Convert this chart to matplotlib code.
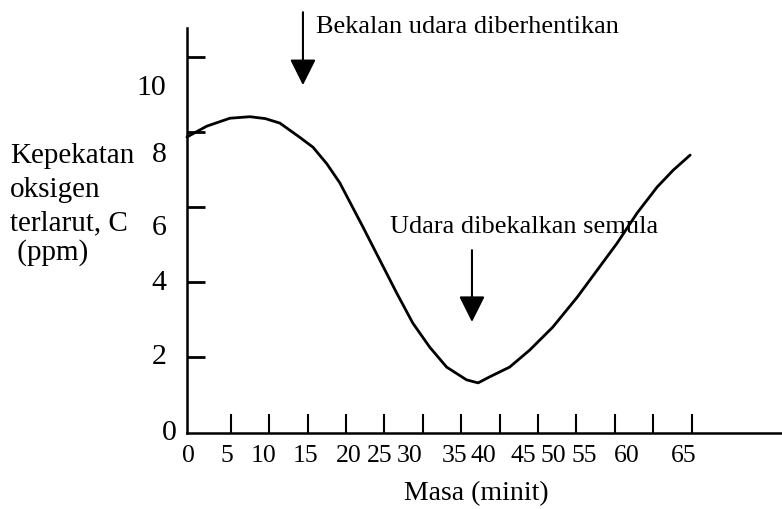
import matplotlib
matplotlib.use("Agg")
import matplotlib.pyplot as plt

plt.rcParams['font.family'] = ['Liberation Serif', 'DejaVu Serif']

# oxygen curve (minutes, ppm)
masa = [-0.7, 1.9, 4.9, 7.5, 9.5, 11.4, 14.0, 15.7, 17.5, 19.2, 22.2, 24.4,
        26.6, 28.7, 30.9, 33.1, 35.7, 37.2, 38.7, 41.3, 43.9, 46.9, 50.1,
        52.7, 55.3, 57.9, 60.5, 62.6, 64.8]
kepekatan = [7.86, 8.15, 8.36, 8.40, 8.35, 8.23, 7.85, 7.59, 7.15, 6.64, 5.47,
             4.59, 3.71, 2.91, 2.27, 1.74, 1.40, 1.32, 1.48, 1.74, 2.19, 2.80,
             3.60, 4.32, 5.04, 5.84, 6.53, 6.98, 7.38]

x_ticks = [0, 5, 10, 15, 20, 25, 30, 35, 40, 45, 50, 55, 60, 65]
y_ticks = [0, 2, 4, 6, 8, 10]
# printed labels sit a little off their ticks (pixel shifts, hand drawn)
x_label_shift = [-4, -4, -6, -2, 3, -5, -13, -7, -16, -15, -23, -31, -27, -8]
y_label_shift = [(-10, 0), (-20, 0), (-20, 1), (-20, 21), (-20, 23), (-20, 31)]

y_title = ['Kepekatan', 'oksigen', 'terlarut, C', ' (ppm)']

stop_air = (14.4, 9.24)
start_air = (36.4, 2.94)

W, H = 782, 509
fig = plt.figure(figsize=(W / 100, H / 100), dpi=100)
ax = fig.add_axes([186.5 / W, (H - 432.5) / H, (W - 186.5) / W, (432.5 - 28) / H])

ax.plot(masa, kepekatan, color='black', lw=2.0, solid_capstyle='round',
        solid_joinstyle='round', clip_on=False)

ax.set_xlim(-0.755, 76.75)
ax.set_ylim(0, 10.76)
for s in ['top', 'right']:
    ax.spines[s].set_visible(False)
for s in ['left', 'bottom']:
    ax.spines[s].set_linewidth(1.8)

ax.set_xticks(x_ticks[1:])
ax.set_xticklabels([])
ax.tick_params(axis='x', direction='in', length=13.5, width=1.5)
ax.set_yticks(y_ticks[1:])
ax.set_yticklabels([])
ax.tick_params(axis='y', direction='in', length=13, width=2.0)

for v, dx in zip(x_ticks, x_label_shift):
    ax.annotate(str(v), xy=(v, 0), xytext=(dx, -24), textcoords='offset pixels',
                ha='center', va='center', fontsize=18.5, annotation_clip=False)
for v, (dx, dy) in zip(y_ticks, y_label_shift):
    ax.annotate(str(v), xy=(-0.755, v), xytext=(dx, -dy), textcoords='offset pixels',
                ha='right', va='center', fontsize=21.5, annotation_clip=False)

fig.text(476 / W, 1 - 494 / H, 'Masa (minit)', fontsize=20, ha='center', va='center')

arrow = dict(arrowstyle='-|>,head_length=0.8,head_width=0.4', mutation_scale=20,
             color='black', lw=1.5, shrinkA=0, shrinkB=0)
ax.annotate('', xy=stop_air, xytext=(stop_air[0], 11.18), arrowprops=arrow,
            annotation_clip=False)
ax.annotate('', xy=start_air, xytext=(start_air[0], 4.85), arrowprops=arrow,
            annotation_clip=False)

fig.text(316 / W, 1 - 33 / H, 'Bekalan udara diberhentikan', fontsize=19,
         ha='left', va='baseline')
fig.text(390 / W, 1 - 233 / H, 'Udara dibekalkan semula', fontsize=19,
         ha='left', va='baseline')
for line, yb in zip(y_title, [163, 197, 230, 260]):
    fig.text(10 / W, 1 - yb / H, line, fontsize=21, ha='left', va='baseline')

fig.savefig('out.png', dpi=100)
